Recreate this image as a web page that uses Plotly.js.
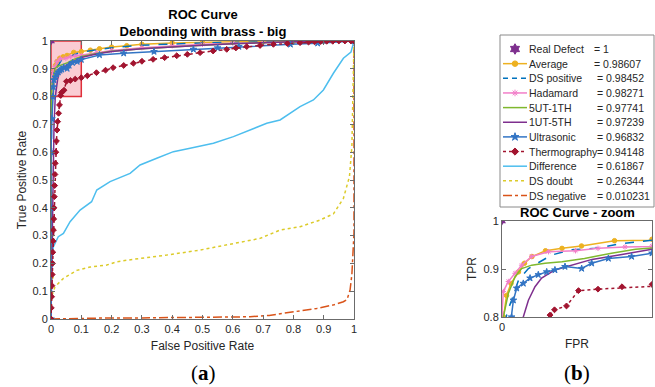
<!DOCTYPE html>
<html><head><meta charset="utf-8">
<script src="https://cdn.plot.ly/plotly-3.0.1.min.js"></script>
<style>html,body{margin:0;padding:0;background:#fff}#chart{width:655px;height:387px}</style>
</head><body><div id="chart"></div>
<script>
// ---------- data ----------
const seriesNames = ['Real Defect','Average','DS positive','Hadamard','5UT-1TH','1UT-5TH','Ultrasonic','Thermography','Difference','DS doubt','DS negative'];
const aucValues = [1, 0.98607, 0.98452, 0.98271, 0.97741, 0.97239, 0.96832, 0.94148, 0.61867, 0.26344, 0.010231];

const realDefectFPR = [0];
const realDefectTPR = [1];

const averageFPR = [0, 0, 0, 0, 0, 0, 0.001, 0.003, 0.006, 0.011, 0.015, 0.02, 0.029, 0.04, 0.053, 0.075, 0.1, 0.13, 0.16, 0.2, 0.25, 0.3, 0.4, 0.5, 0.6, 0.7, 0.8, 0.9, 1];
const averageTPR = [0, 0.15, 0.3, 0.45, 0.6, 0.72, 0.8, 0.845, 0.87, 0.894, 0.912, 0.926, 0.938, 0.943, 0.948, 0.959, 0.962, 0.967, 0.972, 0.978, 0.983, 0.988, 0.993, 0.996, 0.997, 0.998, 0.999, 1, 1];

const dsPositiveFPR = [0, 0, 0, 0, 0.002, 0.004, 0.0064, 0.011, 0.0176, 0.024, 0.033, 0.046, 0.062, 0.078, 0.1, 0.15, 0.2, 0.3, 0.4, 0.5, 0.6, 0.7, 0.8, 0.9, 1];
const dsPositiveTPR = [0, 0.3, 0.6, 0.75, 0.79, 0.815, 0.835, 0.877, 0.901, 0.912, 0.929, 0.94, 0.943, 0.952, 0.96, 0.968, 0.976, 0.985, 0.99, 0.993, 0.995, 0.997, 0.998, 0.999, 1];

const hadamardFPR = [0, 0, 0, 0, 0.0009, 0.0042, 0.0087, 0.0131, 0.0198, 0.031, 0.049, 0.064, 0.082, 0.1, 0.15, 0.2, 0.3, 0.4, 0.5, 0.6, 0.7, 0.8, 0.9, 1];
const hadamardTPR = [0, 0.3, 0.6, 0.808, 0.853, 0.874, 0.891, 0.908, 0.926, 0.936, 0.938, 0.943, 0.946, 0.948, 0.958, 0.966, 0.976, 0.983, 0.988, 0.992, 0.995, 0.997, 0.999, 1];

const ut5FPR = [0, 0, 0.0009, 0.0042, 0.0087, 0.0131, 0.0198, 0.0287, 0.04, 0.055, 0.073, 0.089, 0.1, 0.15, 0.2, 0.3, 0.4, 0.5, 0.6, 0.7, 0.8, 0.9, 1];
const ut5TPR = [0, 0.7, 0.8, 0.849, 0.884, 0.901, 0.908, 0.912, 0.915, 0.922, 0.933, 0.941, 0.944, 0.955, 0.963, 0.972, 0.979, 0.985, 0.99, 0.994, 0.997, 0.999, 1];

const ut1FPR = [0, 0.005, 0.01, 0.0142, 0.0176, 0.022, 0.0264, 0.0353, 0.0464, 0.06, 0.078, 0.1, 0.15, 0.2, 0.3, 0.4, 0.5, 0.6, 0.7, 0.8, 0.9, 1];
const ut1TPR = [0, 0.45, 0.7, 0.8, 0.835, 0.863, 0.881, 0.898, 0.908, 0.92, 0.929, 0.941, 0.953, 0.962, 0.972, 0.979, 0.985, 0.99, 0.994, 0.997, 0.999, 1];

const ultrasonicFPR = [0, 0, 0, 0, 0.003, 0.0064, 0.0076, 0.0098, 0.0142, 0.0187, 0.0242, 0.0298, 0.0353, 0.042, 0.0531, 0.0598, 0.0709, 0.0864, 0.1, 0.16, 0.24, 0.34, 0.47, 0.55, 0.62, 0.79, 0.88, 1];
const ultrasonicTPR = [0, 0.2, 0.4, 0.6, 0.72, 0.8, 0.835, 0.86, 0.87, 0.881, 0.888, 0.894, 0.898, 0.905, 0.901, 0.912, 0.922, 0.926, 0.933, 0.95, 0.956, 0.962, 0.97, 0.975, 0.98, 0.988, 0.992, 1];

const thermoFPR = [0, 0.001, 0.002, 0.003, 0.004, 0.005, 0.006, 0.007, 0.008, 0.009, 0.010, 0.011, 0.012, 0.013, 0.014, 0.016, 0.018, 0.020, 0.022, 0.025, 0.028, 0.032, 0.035, 0.043, 0.051, 0.064, 0.08, 0.1, 0.12, 0.15, 0.18, 0.205, 0.24, 0.272, 0.3, 0.337, 0.375, 0.415, 0.45, 0.492, 0.535, 0.58, 0.61, 0.646, 0.69, 0.734, 0.78, 0.822, 0.85, 0.87, 0.89, 0.91, 0.93, 0.95, 0.97, 0.99, 1];
const thermoTPR = [0, 0.04, 0.08, 0.12, 0.16, 0.2, 0.24, 0.28, 0.32, 0.36, 0.40, 0.44, 0.48, 0.52, 0.56, 0.6, 0.64, 0.68, 0.71, 0.74, 0.77, 0.804, 0.815, 0.823, 0.855, 0.858, 0.863, 0.868, 0.875, 0.886, 0.895, 0.904, 0.912, 0.92, 0.927, 0.934, 0.94, 0.947, 0.952, 0.958, 0.964, 0.97, 0.975, 0.98, 0.984, 0.988, 0.991, 0.994, 0.996, 0.997, 0.998, 0.999, 0.999, 1, 1, 1, 1];

const differenceFPR = [0, 0, 0.002, 0.008, 0.024, 0.041, 0.063, 0.096, 0.134, 0.151, 0.195, 0.261, 0.294, 0.349, 0.404, 0.459, 0.536, 0.602, 0.657, 0.712, 0.756, 0.822, 0.866, 0.899, 0.932, 0.965, 0.99, 1];
const differenceTPR = [0, 0.12, 0.212, 0.26, 0.296, 0.308, 0.35, 0.392, 0.422, 0.464, 0.494, 0.524, 0.554, 0.578, 0.602, 0.614, 0.632, 0.656, 0.68, 0.704, 0.716, 0.764, 0.788, 0.824, 0.884, 0.938, 0.96, 1];

const dsDoubtFPR = [0, 0, 0.002, 0.013, 0.041, 0.085, 0.129, 0.184, 0.217, 0.294, 0.382, 0.492, 0.602, 0.69, 0.756, 0.822, 0.888, 0.932, 0.965, 0.985, 0.993, 0.998, 1];
const dsDoubtTPR = [0, 0.04, 0.08, 0.116, 0.146, 0.175, 0.187, 0.194, 0.206, 0.218, 0.23, 0.248, 0.272, 0.29, 0.32, 0.332, 0.356, 0.378, 0.434, 0.512, 0.62, 0.848, 1];

const dsNegativeFPR = [0, 0.1, 0.2, 0.3, 0.4, 0.5, 0.6, 0.657, 0.72, 0.767, 0.82, 0.877, 0.93, 0.965, 0.977, 0.987, 0.993, 0.996, 1, 1];
const dsNegativeTPR = [0, 0.003, 0.004, 0.004, 0.005, 0.005, 0.006, 0.008, 0.013, 0.02, 0.028, 0.038, 0.05, 0.062, 0.07, 0.104, 0.16, 0.212, 0.31, 1];

const mainTicks = [0, 0.1, 0.2, 0.3, 0.4, 0.5, 0.6, 0.7, 0.8, 0.9, 1];
const zoomXTicks = [0, 0.1];
const zoomYTicks = [0.8, 0.9, 1];
const zoomXRange = [0, 0.1];
const zoomYRange = [0.8, 1];

// ---------- styles ----------
const seriesData = [
  [realDefectFPR, realDefectTPR], [averageFPR, averageTPR], [dsPositiveFPR, dsPositiveTPR],
  [hadamardFPR, hadamardTPR], [ut5FPR, ut5TPR], [ut1FPR, ut1TPR], [ultrasonicFPR, ultrasonicTPR],
  [thermoFPR, thermoTPR], [differenceFPR, differenceTPR], [dsDoubtFPR, dsDoubtTPR], [dsNegativeFPR, dsNegativeTPR]
];
const styles = [
  {color:'#7E2F8E', dash:null, symbol:'hexagram', msize:7, markerOnly:true},
  {color:'#EDB120', dash:'solid', symbol:'circle', msize:4.5},
  {color:'#0072BD', dash:'dash', symbol:null},
  {color:'#F27FC9', dash:'solid', symbol:'asterisk-open', msize:4.5},
  {color:'#7FB82E', dash:'solid', symbol:null},
  {color:'#7E2F8E', dash:'solid', symbol:null},
  {color:'#3274C4', dash:'solid', symbol:'star', msize:5},
  {color:'#A2142F', dash:'dot', symbol:'diamond', msize:4.5},
  {color:'#4DBEEE', dash:'solid', symbol:null},
  {color:'#DCCB2A', dash:'dot', symbol:null},
  {color:'#D95319', dash:'dashdot', symbol:null}
];
const FONT = 'Liberation Sans, Arial, sans-serif';
const TXT = '#262626';

function makeTrace(i, x, y, xa, ya) {
  const s = styles[i];
  const t = {x:x, y:y, xaxis:xa, yaxis:ya, type:'scatter', showlegend:false, hoverinfo:'skip'};
  if (s.markerOnly) {
    t.mode = 'markers';
    t.marker = {symbol:s.symbol, size:s.msize, color:s.color};
  } else {
    t.mode = s.symbol ? 'lines+markers' : 'lines';
    t.line = {color:s.color, width:1.5, dash:s.dash};
    if (s.symbol) t.marker = {symbol:s.symbol, size:s.msize, color:s.color, line:{color:s.color, width:1}};
  }
  return t;
}

const traces = [];
const order = [10, 9, 8, 1, 2, 3, 4, 5, 6, 7, 0];
order.forEach(i => traces.push(makeTrace(i, seriesData[i][0], seriesData[i][1], 'x', 'y')));
order.forEach(i => traces.push(makeTrace(i, seriesData[i][0], seriesData[i][1], 'x2', 'y2')));

// legend drawn in its own axis (units: pixels inside the box)
const LEG_W = 154, LEG_H = 172, ROW0 = 14, ROWH = 14.65;
const annotations = [];
seriesNames.forEach((name, i) => {
  const s = styles[i];
  const ry = ROW0 + ROWH * i;
  if (!s.markerOnly) {
    traces.push({x:[3, 27], y:[ry, ry], xaxis:'x3', yaxis:'y3', mode:'lines', showlegend:false, hoverinfo:'skip',
      line:{color:s.color, width:1.5, dash:s.dash === 'dash' ? '5px,4px' : s.dash}});
  }
  if (s.symbol) {
    traces.push({x:[15], y:[ry], xaxis:'x3', yaxis:'y3', mode:'markers', showlegend:false, hoverinfo:'skip',
      marker:{symbol:s.symbol, size:s.msize + 1, color:s.color, line:{color:s.color, width:1}}});
  }
  annotations.push({xref:'x3', yref:'y3', x:27, y:ry, text:name, showarrow:false, xanchor:'left', yanchor:'middle',
    font:{family:FONT, size:10.5, color:TXT}});
  annotations.push({xref:'x3', yref:'y3', x:(i < 2 ? 92 : 95), y:ry, text:'= ' + String(aucValues[i]), showarrow:false, xanchor:'left', yanchor:'middle',
    font:{family:FONT, size:10.5, color:TXT}});
});

const W = 655, H = 387;
const px = v => v / W, py = v => 1 - v / H;

annotations.push({xref:'paper', yref:'paper', x:px(577), y:py(212), text:'<b>ROC Curve - zoom</b>', showarrow:false,
  xanchor:'center', yanchor:'middle', font:{family:FONT, size:13, color:'#000'}});
annotations.push({xref:'paper', yref:'paper', x:px(203), y:py(373), text:'(<b>a</b>)', showarrow:false,
  xanchor:'center', yanchor:'middle', font:{family:'Liberation Serif, Times New Roman, serif', size:21, color:'#000'}});
annotations.push({xref:'paper', yref:'paper', x:px(577), y:py(373), text:'(<b>b</b>)', showarrow:false,
  xanchor:'center', yanchor:'middle', font:{family:'Liberation Serif, Times New Roman, serif', size:21, color:'#000'}});

const axisBase = {
  showgrid:false, zeroline:false, showline:true, mirror:'ticks', linecolor:'#6b6b6b', linewidth:1,
  ticks:'inside', ticklen:4, tickcolor:'#6b6b6b', tickfont:{family:FONT, size:11, color:TXT}, fixedrange:true
};

const layout = {
  width:W, height:H, margin:{l:0, r:0, t:0, b:0}, paper_bgcolor:'#fff', plot_bgcolor:'#fff',
  showlegend:false,
  title:{text:'<b>ROC Curve<br>Debonding with brass - big</b>', x:px(203), xanchor:'center', xref:'paper',
    y:py(19), yanchor:'top', yref:'container', font:{family:FONT, size:13, color:'#000'}},
  xaxis:Object.assign({}, axisBase, {domain:[px(51), px(354)], range:[0, 1], tickvals:mainTicks, anchor:'y',
    title:{text:'False Positive Rate', font:{family:FONT, size:12, color:TXT}, standoff:7}}),
  yaxis:Object.assign({}, axisBase, {domain:[py(319), py(41)], range:[0, 1], tickvals:mainTicks, anchor:'x',
    title:{text:'True Positive Rate', font:{family:FONT, size:12, color:TXT}, standoff:3}}),
  xaxis2:Object.assign({}, axisBase, {domain:[px(502), px(652)], range:zoomXRange, tickvals:zoomXTicks, anchor:'y2',
    title:{text:'FPR', font:{family:FONT, size:12, color:TXT}, standoff:7}}),
  yaxis2:Object.assign({}, axisBase, {domain:[py(317), py(221)], range:zoomYRange, tickvals:zoomYTicks, anchor:'x2',
    title:{text:'TPR', font:{family:FONT, size:12, color:TXT}, standoff:4}}),
  xaxis3:{domain:[px(500), px(654)], range:[0, LEG_W], visible:false, fixedrange:true, anchor:'y3'},
  yaxis3:{domain:[py(207), py(35)], range:[LEG_H, 0], visible:false, fixedrange:true, anchor:'x3'},
  shapes:[
    {type:'rect', xref:'x', yref:'y', x0:zoomXRange[0], x1:zoomXRange[1], y0:zoomYRange[0], y1:zoomYRange[1],
      fillcolor:'rgba(240,110,130,0.35)', line:{color:'#E0303A', width:1.5}, layer:'below'},
    {type:'rect', xref:'x3 domain', yref:'y3 domain', x0:0, x1:1, y0:0, y1:1,
      fillcolor:'rgba(0,0,0,0)', line:{color:'#8a8a8a', width:1}, layer:'below'}
  ],
  annotations:annotations,
  font:{family:FONT, color:TXT}
};

Plotly.newPlot('chart', traces, layout, {displayModeBar:false, staticPlot:true});
</script>
</body></html>
